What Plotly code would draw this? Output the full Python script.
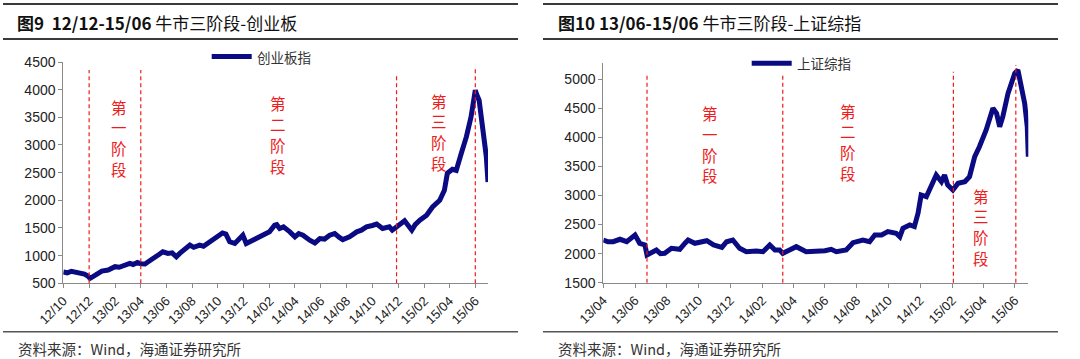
import plotly.graph_objects as go

# ---------------- DATA ----------------
cyb_name = "创业板指"
cyb_dates = [
    "2012-10-01", "2012-10-10", "2012-10-20", "2012-10-31", "2012-11-10", "2012-11-20",
    "2012-11-28", "2012-12-03", "2012-12-10", "2012-12-20", "2012-12-31", "2013-01-15",
    "2013-01-31", "2013-02-10", "2013-02-25", "2013-03-07", "2013-03-15", "2013-03-25",
    "2013-04-02", "2013-04-12", "2013-04-23", "2013-05-05", "2013-05-15", "2013-05-24",
    "2013-06-05", "2013-06-15", "2013-06-25", "2013-07-03", "2013-07-15", "2013-07-27",
    "2013-08-05", "2013-08-19", "2013-08-28", "2013-09-12", "2013-09-25", "2013-10-05",
    "2013-10-12", "2013-10-20", "2013-10-29", "2013-11-10", "2013-11-20", "2013-11-29",
    "2013-12-07", "2013-12-22", "2014-01-08", "2014-01-20", "2014-01-31", "2014-02-12",
    "2014-02-17", "2014-02-24", "2014-03-05", "2014-03-20", "2014-04-01", "2014-04-10",
    "2014-04-20", "2014-05-06", "2014-05-18", "2014-05-30", "2014-06-10", "2014-06-22",
    "2014-07-04", "2014-07-15", "2014-07-23", "2014-08-08", "2014-08-25", "2014-09-05",
    "2014-09-17", "2014-10-01", "2014-10-11", "2014-10-25", "2014-11-10", "2014-11-17",
    "2014-12-05", "2014-12-16", "2015-01-02", "2015-01-10", "2015-01-21", "2015-02-06",
    "2015-02-20", "2015-03-09", "2015-03-20", "2015-03-27", "2015-04-08", "2015-04-17",
    "2015-04-29", "2015-05-11", "2015-05-22", "2015-06-01", "2015-06-05", "2015-06-10",
    "2015-06-17", "2015-06-27", "2015-07-01",
]
cyb_values = [
    705, 690, 715, 700, 680, 665,
    630, 590, 620, 660, 720, 740,
    800, 790, 830, 860, 840, 875,
    855, 850, 908, 960, 1020, 1070,
    1040, 1050, 980, 1040, 1110, 1190,
    1150, 1190, 1170, 1250, 1300, 1370,
    1410, 1390, 1250, 1220, 1290, 1370,
    1220, 1280, 1330, 1390, 1430, 1550,
    1560, 1490, 1520, 1430, 1340, 1400,
    1370, 1280, 1230, 1310, 1300, 1370,
    1400, 1330, 1290, 1340, 1430, 1460,
    1520, 1545, 1570, 1490, 1520, 1460,
    1550, 1630, 1460, 1560, 1640, 1730,
    1880, 2000, 2180, 2490, 2560, 2540,
    2850, 3150, 3510, 3990, 3900, 3810,
    3390, 2790, 2330,
]

sh_name = "上证综指"
sh_dates = [
    "2013-04-01", "2013-04-10", "2013-04-20", "2013-05-03", "2013-05-16", "2013-05-25",
    "2013-06-01", "2013-06-10", "2013-06-20", "2013-06-24", "2013-07-06", "2013-07-12",
    "2013-07-20", "2013-07-28", "2013-08-10", "2013-08-26", "2013-09-05", "2013-09-11",
    "2013-09-24", "2013-10-08", "2013-10-17", "2013-10-30", "2013-11-15", "2013-11-24",
    "2013-12-06", "2013-12-19", "2014-01-01", "2014-01-20", "2014-02-02", "2014-02-15",
    "2014-02-25", "2014-03-06", "2014-03-12", "2014-03-25", "2014-04-07", "2014-04-26",
    "2014-05-15", "2014-06-01", "2014-06-13", "2014-06-23", "2014-07-12", "2014-07-25",
    "2014-08-13", "2014-08-26", "2014-09-05", "2014-09-18", "2014-09-30", "2014-10-16",
    "2014-10-23", "2014-10-29", "2014-11-11", "2014-11-20", "2014-11-27", "2014-12-03",
    "2014-12-13", "2014-12-23", "2015-01-01", "2015-01-11", "2015-01-17", "2015-01-23",
    "2015-02-02", "2015-02-12", "2015-02-25", "2015-03-06", "2015-03-16", "2015-03-25",
    "2015-04-07", "2015-04-20", "2015-04-27", "2015-05-03", "2015-05-09", "2015-05-19",
    "2015-05-25", "2015-06-01", "2015-06-07", "2015-06-13", "2015-06-20", "2015-06-25",
    "2015-06-27",
]
sh_values = [
    2235, 2205, 2205, 2247, 2205, 2280,
    2320, 2178, 2150, 1977, 2033, 2062,
    2000, 2005, 2092, 2075, 2180, 2235,
    2178, 2200, 2222, 2150, 2109, 2205,
    2235, 2092, 2033, 2045, 2033, 2150,
    2062, 2062, 2005, 2062, 2120, 2033,
    2033, 2050, 2075, 2033, 2062, 2188,
    2235, 2205, 2320, 2320, 2378, 2350,
    2290, 2436, 2493, 2465, 2694, 3009,
    2980, 3152, 3353, 3238, 3353, 3181,
    3095, 3210, 3238, 3324, 3668, 3840,
    4127, 4500, 4414, 4184, 4356, 4758,
    4930, 5103, 5160, 4872, 4587, 4184,
    3668,
]

# phase boundary dates
cyb_phase_dates = ["2012-12-01", "2013-04-02", "2014-11-27", "2015-06-01"]
sh_phase_dates = ["2013-06-24", "2014-03-12", "2015-02-03", "2015-06-03"]
phase_labels = ["第一阶段", "第二阶段", "第三阶段"]

title_left = ("图9\u00a0\u00a012/12-15/06", " 牛市三阶段-创业板")
title_right = ("图10 13/06-15/06", " 牛市三阶段-上证综指")
source_text = "资料来源：Wind，海通证券研究所"

# ---------------- LAYOUT HELPERS ----------------
W, H = 1080, 359
def px(x):
    return x / W
def py(y):
    return 1 - y / H

NAVY = "#0a0a82"
RED = "#ee1c1c"
AXIS = "#8a8a8a"
LATIN = "Liberation Sans, Arial, sans-serif"
CJK = "Noto Sans CJK SC, sans-serif"

fig = go.Figure()
fig.add_trace(go.Scatter(x=cyb_dates, y=cyb_values, mode="lines", name=cyb_name,
                         line=dict(color=NAVY, width=5), xaxis="x", yaxis="y",
                         showlegend=False))
fig.add_trace(go.Scatter(x=sh_dates, y=sh_values, mode="lines", name=sh_name,
                         line=dict(color=NAVY, width=5), xaxis="x2", yaxis="y2",
                         showlegend=False))

common_x = dict(type="date", dtick="M2", tickformat="%y/%m", tickangle=-45,
                ticks="outside", ticklen=4, tickcolor=AXIS, showline=True,
                linecolor=AXIS, linewidth=1, showgrid=False, zeroline=False,
                automargin=False,
                tickfont=dict(family=LATIN, size=13, color="#222"))
common_y = dict(dtick=500, ticks="outside", ticklen=4, tickcolor=AXIS, showline=True,
                linecolor=AXIS, linewidth=1, showgrid=False, zeroline=False,
                automargin=False,
                tickfont=dict(family=LATIN, size=14, color="#222"))

L_TOP, L_BOT = 62.0, 283.3
R_TOP, R_BOT = 62.7, 282.7

fig.update_layout(
    width=W, height=H,
    margin=dict(l=0, r=0, t=0, b=0, autoexpand=False),
    paper_bgcolor="white", plot_bgcolor="white",
    xaxis=dict(domain=[px(63.3), px(488)], range=["2012-10-01", "2015-07-01"],
               tick0="2012-10-01", anchor="y", **common_x),
    yaxis=dict(domain=[py(L_BOT), py(L_TOP)], range=[500, 4500], tick0=500,
               anchor="x", **common_y),
    xaxis2=dict(domain=[px(603.3), px(1028.3)], range=["2013-04-01", "2015-06-27"],
                tick0="2013-04-01", anchor="y2", **common_x),
    yaxis2=dict(domain=[py(R_BOT), py(R_TOP)], range=[1500, 5285], tick0=1500,
                anchor="x2", **common_y),
)

shapes = []
annotations = []

# header / footer rules
for x0, x1 in [(3, 518), (543, 1058)]:
    shapes.append(dict(type="line", xref="paper", yref="paper", x0=px(x0), x1=px(x1),
                       y0=py(4), y1=py(4), line=dict(color="#3a3a3a", width=2)))
    shapes.append(dict(type="line", xref="paper", yref="paper", x0=px(x0), x1=px(x1),
                       y0=py(39), y1=py(39), line=dict(color="#3a3a3a", width=2)))
    shapes.append(dict(type="line", xref="paper", yref="paper", x0=px(x0), x1=px(x1),
                       y0=py(331.7), y1=py(331.7), line=dict(color="#555", width=1.5)))

# titles
for xx, (bold, rest) in [(15, title_left), (556, title_right)]:
    annotations.append(dict(xref="paper", yref="paper", x=px(xx), y=py(22.5),
                            xanchor="left", yanchor="middle", showarrow=False,
                            text=f"<b>{bold}</b>{rest}",
                            font=dict(family=CJK, size=17, color="#111")))
# sources
for xx in [16, 556]:
    annotations.append(dict(xref="paper", yref="paper", x=px(xx), y=py(348),
                            xanchor="left", yanchor="middle", showarrow=False,
                            text=source_text,
                            font=dict(family=CJK, size=14.5, color="#333")))

# legends (manual)
for (lx0, lx1, ly, name) in [(211.7, 251.7, 56.5, cyb_name), (751.7, 791.7, 63.3, sh_name)]:
    shapes.append(dict(type="line", xref="paper", yref="paper", x0=px(lx0), x1=px(lx1),
                       y0=py(ly), y1=py(ly), line=dict(color=NAVY, width=5)))
    annotations.append(dict(xref="paper", yref="paper", x=px(lx1 + 3), y=py(ly),
                            xanchor="left", yanchor="middle", showarrow=False,
                            text=name, font=dict(family=CJK, size=13.5, color="#333")))

# phase dashed lines
left_tops = [70, 70, 75, 67]
right_tops = [75, 73, 71.7, 65]
for d, top in zip(cyb_phase_dates, left_tops):
    shapes.append(dict(type="line", xref="x", yref="paper", x0=d, x1=d,
                       y0=py(L_BOT), y1=py(top),
                       line=dict(color=RED, width=1.2, dash="4px,3px")))
for d, top in zip(sh_phase_dates, right_tops):
    shapes.append(dict(type="line", xref="x2", yref="paper", x0=d, x1=d,
                       y0=py(R_BOT), y1=py(top),
                       line=dict(color=RED, width=1.2, dash="4px,3px")))

# phase labels (vertical text: one character per annotation)
label_pos = [
    (119, 106.7), (278.3, 103.5), (439, 100.5),     # left chart (x, first-char y)
    (710, 113.3), (847.7, 110.5), (981, 195.5),     # right chart
]
for i, (lx, ly) in enumerate(label_pos):
    for k, ch in enumerate(phase_labels[i % 3]):
        annotations.append(dict(xref="paper", yref="paper", x=px(lx), y=py(ly + k * 20.7),
                                xanchor="center", yanchor="middle", showarrow=False,
                                borderpad=0, text=ch,
                                font=dict(family=CJK, size=15.5, color=RED)))

fig.update_layout(shapes=shapes, annotations=annotations)
fig.write_html(
    "out.html",
    config={"displayModeBar": False},
    post_script="document.body.style.margin='0';document.body.style.overflow='hidden';",
)
